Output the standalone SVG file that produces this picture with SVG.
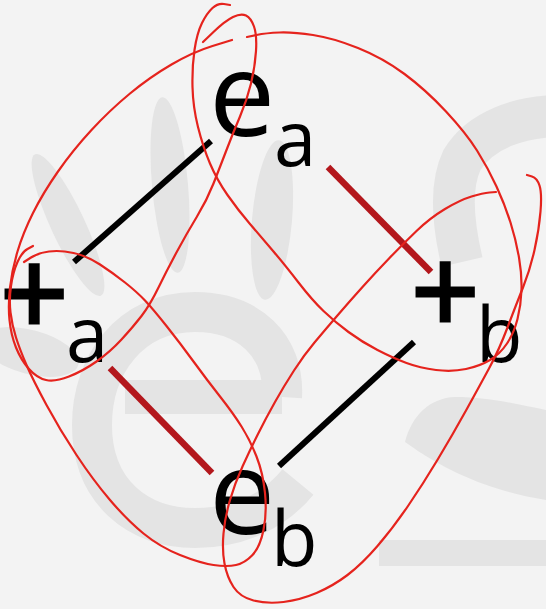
<svg xmlns="http://www.w3.org/2000/svg" width="546" height="609" viewBox="0 0 546 609">
  <style>
    .wm { fill: #e4e4e4; }
    .wms { fill: none; stroke: #e4e4e4; }
    .big { font-family: "Open Sans", "Liberation Sans", sans-serif; font-size: 118px; fill: #000; }
    .plus { font-family: "Open Sans", "Liberation Sans", sans-serif; font-size: 120px; fill: #000; stroke: #000; stroke-width: 3; }
    .sub { font-family: "Open Sans", "Liberation Sans", sans-serif; font-size: 76px; fill: #000; }
    .blk { stroke: #000; stroke-width: 6; stroke-linecap: butt; }
    .dred { stroke: #b3171c; stroke-width: 6.5; stroke-linecap: butt; }
    .ink { fill: none; stroke: #e5231d; stroke-width: 2.2; stroke-linecap: round; stroke-linejoin: round; }
  </style>
  <rect x="0" y="0" width="546" height="609" fill="#f3f3f3"/>
  <g id="watermark">
    <ellipse class="wm" cx="68" cy="225" rx="17" ry="78" transform="rotate(-25 68 225)"/>
    <ellipse class="wm" cx="170" cy="185" rx="18" ry="88" transform="rotate(-5 170 185)"/>
    <ellipse class="wm" cx="272" cy="220" rx="20" ry="80" transform="rotate(5 272 220)"/>
    <ellipse class="wm" cx="30" cy="352" rx="50" ry="22" transform="rotate(15 30 352)"/>
    <path class="wms" stroke-width="34" d="M125,397 L282,397"/>
    <path class="wms" stroke-width="40" d="M282,397 C285,345 248,312 195,312 C130,312 92,365 92,425 C92,492 138,528 195,528 C240,528 275,510 298,482"/>
    <path class="wms" stroke-width="42" d="M560,116 C520,116 480,130 462,160 C450,185 452,220 462,262"/>
    <path class="wm" d="M405,442 C412,415 430,398 455,397 C490,397 520,405 546,410 L546,500 C500,492 455,478 405,442 Z"/>
    <rect class="wm" x="379" y="540" width="167" height="26"/>
  </g>
  <g id="connectors">
    <line class="blk" x1="211" y1="141" x2="74" y2="262"/>
    <line class="dred" x1="328" y1="167" x2="431" y2="272"/>
    <line class="dred" x1="110" y1="368" x2="212" y2="473"/>
    <line class="blk" x1="279" y1="466" x2="414" y2="342"/>
  </g>
  <g id="node-ea">
    <text class="big" x="209" y="136">e</text>
    <text class="sub" x="274" y="166">a</text>
  </g>
  <g id="node-pa">
    <text class="plus" x="0" y="337">+</text>
    <text class="sub" x="66" y="362">a</text>
  </g>
  <g id="node-pb">
    <text class="plus" x="411" y="335">+</text>
    <text class="sub" x="476" y="362">b</text>
  </g>
  <g id="node-eb">
    <text class="big" x="209" y="534">e</text>
    <text class="sub" x="271" y="566">b</text>
  </g>
  <g id="annotations">
    <path class="ink" d="M232,40 L212.5,46 Q193,52 171.5,64.5 Q150,77 130,93.5 Q110,110 91.5,130 Q73,150 58,171.5 Q43,193 33,213 Q23,233 17.5,251.5 Q12,270 10,287.5 Q8,305 9.5,320 Q11,335 16,347.5 Q21,360 29,369 Q37,378 46,380 Q55,382 69,376.5 Q83,371 96.5,361.5 Q110,352 121.5,339.5 Q133,327 141.5,316 Q150,305 158.5,287.5 Q167,270 177,251.5 Q187,233 197,216.5 Q207,200 213.5,183.5 Q220,167 226.5,150 Q233,133 240,116.5 Q247,100 251,83.5 Q255,67 256,51 Q257,35 254,26.5 Q251,18 246,15.5 Q241,13 233,17 Q225,21 214,31.5 L203,42"/>
    <path class="ink" d="M33,246 L27.5,249 Q22,252 17.5,262 Q13,272 11,286 Q9,300 10.5,312.5 Q12,325 16,337.5 Q20,350 26.5,365 Q33,380 46.5,405 Q60,430 76.5,455 Q93,480 110,500 Q127,520 143.5,533.5 Q160,547 180,555 Q200,563 213.5,565 Q227,567 236,565 Q245,563 252.5,555 Q260,547 263.5,530 Q267,513 265,493 Q263,473 256.5,456.5 Q250,440 241.5,426.5 Q233,413 220,396.5 Q207,380 193.5,361.5 Q180,343 166.5,326 Q153,309 145,300.5 Q137,292 125,282.5 Q113,273 100,264.5 Q87,256 73.5,253 Q60,250 49,251.5 Q38,253 31,257.5 L24,262"/>
    <path class="ink" d="M230,5 L224,4 Q218,3 212.5,8 Q207,13 202,23 Q197,33 194.5,50 Q192,67 192.5,87 Q193,107 198,127 Q203,147 210,163.5 Q217,180 227.5,195 Q238,210 250,224 Q262,238 273.5,251.5 Q285,265 298.5,282.5 Q312,300 323.5,311 Q335,322 348.5,332 Q362,342 377.5,350 Q393,358 406.5,363 Q420,368 436,370 Q452,372 466,369 Q480,366 490,360 Q500,354 507,343.5 Q514,333 517.5,319 Q521,305 521.5,290 Q522,275 519,257.5 Q516,240 510.5,222.5 Q505,205 496.5,186.5 Q488,168 477,150.5 Q466,133 446,111.5 Q426,90 404.5,74 Q383,58 358,48 Q333,38 313,35 Q293,32 279.5,32.5 Q266,33 256.5,35 L247,37"/>
    <path class="ink" d="M496,192 L489.5,192.5 Q483,193 471.5,196.5 Q460,200 445,209 Q430,218 416.5,231 Q403,244 389.5,258 Q376,272 362.5,287 Q349,302 337,316 Q325,330 314.5,342.5 Q304,355 294,370.5 Q284,386 275,402 Q266,418 258,434 Q250,450 242.5,466.5 Q235,483 230,500 Q225,517 223.5,533.5 Q222,550 224.5,563.5 Q227,577 233.5,587 Q240,597 253.5,600.5 Q267,604 283.5,602 Q300,600 316.5,593 Q333,586 347.5,575 Q362,564 377.5,546 Q393,528 408,506 Q423,484 438,459 Q453,434 466,410.5 Q479,387 489,368.5 Q499,350 507.5,327.5 Q516,305 523,287.5 Q530,270 534.5,250 Q539,230 540.5,211.5 Q542,193 539.5,185.5 Q537,178 532,176.5 L527,175"/>
  </g>
</svg>
